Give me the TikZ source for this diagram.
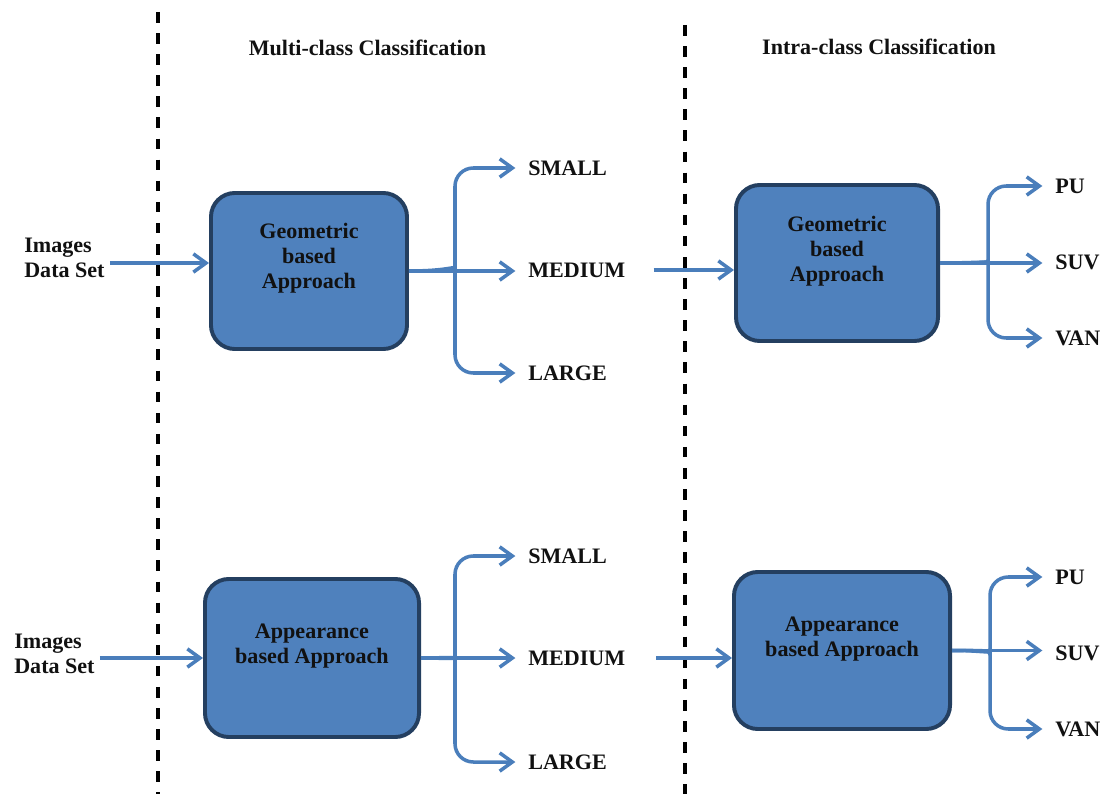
\documentclass[tikz,border=0pt]{standalone}
\usepackage{fontspec}
\setmainfont{Liberation Serif}
\usetikzlibrary{arrows.meta}
\definecolor{boxfill}{HTML}{4F81BD}
\definecolor{boxline}{HTML}{243F60}
\definecolor{arrowc}{HTML}{4A7EBB}
\definecolor{txt}{HTML}{111111}
\begin{document}
\begin{tikzpicture}[x=0.025cm,y=-0.025cm,
 lbl/.style={font=\fontsize{15.7}{17.8}\selectfont\bfseries, inner sep=0pt, text=txt},
 boxtxt/.style={lbl, align=center},
 procbox/.style={draw=boxline, fill=boxfill, line width=2.8pt, rounded corners=17pt, inner sep=0pt},
 conn/.style={draw=arrowc, line width=2.5pt, -{Straight Barb[length=9pt,width=13pt,line width=2.5pt]}},
 divider/.style={line width=2.6pt, dash pattern=on 7.5pt off 7.5pt}]
\useasboundingbox (0,0) rectangle (1104,794);

% dividers
\coordinate (d1t) at (158,12); \coordinate (d1b) at (158,794);
\coordinate (d2t) at (685,25); \coordinate (d2b) at (685,794);
\draw[divider] (d1t) -- (d1b);
\draw[divider] (d2t) -- (d2b);

% headers
\node[lbl] (h1) at (367.5,48) {Multi-class Classification};
\node[lbl] (h2) at (879,47) {Intra-class Classification};

% ---------- top row ----------
\node[lbl, align=left, anchor=west] (in1) at (24,258) {Images\\Data Set};
\node[procbox, minimum width=4.9cm, minimum height=3.9cm] (g1) at (309,271) {};
\node[boxtxt] (g1t) at (309,258) {Geometric\\based\\Approach};

\node[lbl, anchor=west] (s1) at (528,168) {SMALL};
\node[lbl, anchor=west] (m1) at (528,270) {MEDIUM};
\node[lbl, anchor=west] (l1) at (528,373) {LARGE};

\coordinate (a1) at ([shift={(5,5)}]in1.east);
\draw[conn] (a1) -- (a1 -| g1.west);

\coordinate (f1u) at (455,250);
\coordinate (f1d) at (455,288);
\draw[conn, rounded corners=13pt, shorten >=9pt] (g1.east) .. controls +(38,0) and +(0,16) .. (f1u) -- (f1u |- s1.west) -- (s1.west);
\draw[conn, shorten >=9pt] (g1.east) -- (g1.east -| m1.west);
\draw[conn, rounded corners=13pt, shorten >=9pt] (g1.east) .. controls +(38,0) and +(0,-16) .. (f1d) -- (f1d |- l1.west) -- (l1.west);

\node[procbox, minimum width=5.05cm, minimum height=3.9cm] (g2) at (837,263) {};
\node[boxtxt] (g2t) at (837,251) {Geometric\\based\\Approach};

\coordinate (b1) at ([xshift=20]m1.east);
\draw[conn] (b1) -- (b1 -| g2.west);

\node[lbl, anchor=west] (p2) at (1055,186) {PU};
\node[lbl, anchor=west] (u2) at (1055,262) {SUV};
\node[lbl, anchor=west] (v2) at (1055,338) {VAN};

\coordinate (f2u) at (988,245);
\coordinate (f2d) at (988,279);
\draw[conn, rounded corners=13pt, shorten >=9pt] (g2.east) .. controls +(38,0) and +(0,16) .. (f2u) -- (f2u |- p2.west) -- (p2.west);
\draw[conn, shorten >=9pt] (g2.east) -- (g2.east -| u2.west);
\draw[conn, rounded corners=13pt, shorten >=9pt] (g2.east) .. controls +(38,0) and +(0,-16) .. (f2d) -- (f2d |- v2.west) -- (v2.west);

% ---------- bottom row ----------
\node[lbl, align=left, anchor=west] (in3) at (14,654) {Images\\Data Set};
\node[procbox, minimum width=5.35cm, minimum height=3.95cm] (g3) at (312,658) {};
\node[boxtxt] (g3t) at (312,646) {Appearance\\based Approach};

\node[lbl, anchor=west] (s3) at (528,556) {SMALL};
\node[lbl, anchor=west] (m3) at (528,658) {MEDIUM};
\node[lbl, anchor=west] (l3) at (528,762) {LARGE};

\coordinate (a3) at ([shift={(5,4)}]in3.east);
\draw[conn] (a3) -- (a3 -| g3.west);

\coordinate (f3u) at (455,642);
\coordinate (f3d) at (455,674);
\draw[conn, rounded corners=13pt, shorten >=9pt] (g3.east) .. controls +(30,0) and +(0,14) .. (f3u) -- (f3u |- s3.west) -- (s3.west);
\draw[conn, shorten >=9pt] (g3.east) -- (g3.east -| m3.west);
\draw[conn, rounded corners=13pt, shorten >=9pt] (g3.east) .. controls +(30,0) and +(0,-14) .. (f3d) -- (f3d |- l3.west) -- (l3.west);

\node[procbox, minimum width=5.4cm, minimum height=3.925cm] (g4) at (842,650.5) {};
\node[boxtxt] (g4t) at (842,639) {Appearance\\based Approach};

\coordinate (b3) at ([xshift=22]m3.east);
\draw[conn] (b3) -- (b3 -| g4.west);

\node[lbl, anchor=west] (p4) at (1055,577) {PU};
\node[lbl, anchor=west] (u4) at (1055,653) {SUV};
\node[lbl, anchor=west] (v4) at (1055,729) {VAN};

\coordinate (f4u) at (990,636);
\coordinate (f4d) at (990,668);
\draw[conn, rounded corners=13pt, shorten >=9pt] (g4.east) .. controls +(32,0) and +(0,14) .. (f4u) -- (f4u |- p4.west) -- (p4.west);
\draw[conn, shorten >=9pt] (g4.east) -- (g4.east -| u4.west);
\draw[conn, rounded corners=13pt, shorten >=9pt] (g4.east) .. controls +(32,0) and +(0,-14) .. (f4d) -- (f4d |- v4.west) -- (v4.west);
\end{tikzpicture}
\end{document}
